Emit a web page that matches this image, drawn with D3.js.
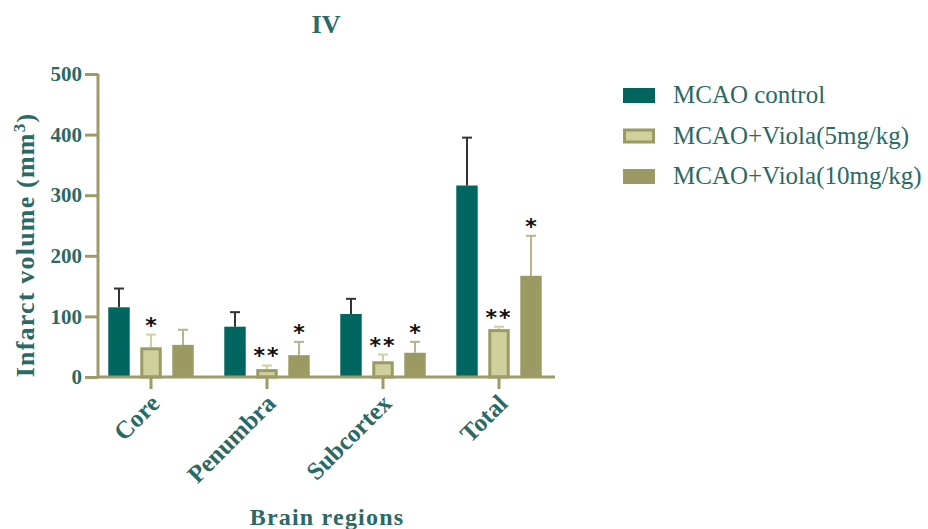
<!DOCTYPE html>
<html>
<head>
<meta charset="utf-8">
<script src="https://cdn.jsdelivr.net/npm/d3@7"></script>
<style>
  body { margin: 0; background: #fff; }
  svg text { font-family: "Liberation Serif", "Times New Roman", serif; }
</style>
</head>
<body>
<div id="chart"></div>
<script>
var width = 928, height = 529;

const regions = ["Core", "Penumbra", "Subcortex", "Total"];
const groups = ["MCAO control", "MCAO+Viola(5mg/kg)", "MCAO+Viola(10mg/kg)"];
const controlMean = [115, 83, 104, 316];
const controlSD = [31, 24, 25, 79];
const viola5Mean = [49, 13, 26, 79];
const viola5SD = [21, 6, 11, 4];
const viola10Mean = [53, 36, 40, 167];
const viola10SD = [25, 22, 18, 66];
const stars5 = ["*", "**", "**", "**"];
const stars10 = ["", "*", "*", "*"];
const yTicks = [0, 100, 200, 300, 400, 500];

var teal = "#00665f", olive = "#9b9a63", pale = "#d0d09d", textCol = "#2a6965", axisCol = "#9d9b68";
var serif = '"Liberation Serif", "Times New Roman", serif';

var series = [
  { name: groups[0], mean: controlMean, sd: controlSD, stars: null },
  { name: groups[1], mean: viola5Mean, sd: viola5SD, stars: stars5 },
  { name: groups[2], mean: viola10Mean, sd: viola10SD, stars: stars10 }
];

var svg = d3.select('#chart').append('svg')
  .attr('width', width).attr('height', height);

var y = d3.scaleLinear().domain([0, 500]).range([377, 74]);
var x = d3.scaleBand().domain(regions).range([93, 557]).padding(0);
var xs = d3.scaleBand().domain(groups).range([-48, 48]).paddingInner(0.33).paddingOuter(0.165);
var bw = xs.bandwidth();

// bars
series.forEach(function(s, si) {
  var g = svg.append('g').attr('class', 'series');
  var data = regions.map(function(r, i) { return { r: r, m: s.mean[i], sd: s.sd[i], star: s.stars ? s.stars[i] : "" }; });
  var cx = d => x(d.r) + x.bandwidth() / 2 + xs(s.name);

  // error bars (upper only)
  var errCol = si === 0 ? "#333" : (si === 1 ? pale : "#b5b48b");
  g.selectAll('line.err').data(data).enter().append('line')
    .attr('x1', d => cx(d) + bw / 2).attr('x2', d => cx(d) + bw / 2)
    .attr('y1', d => y(d.m)).attr('y2', d => y(d.m + d.sd))
    .attr('stroke', errCol).attr('stroke-width', 2);
  g.selectAll('line.cap').data(data).enter().append('line')
    .attr('x1', d => cx(d) + bw / 2 - 5).attr('x2', d => cx(d) + bw / 2 + 5)
    .attr('y1', d => y(d.m + d.sd)).attr('y2', d => y(d.m + d.sd))
    .attr('stroke', errCol).attr('stroke-width', 2);

  if (si === 1) {
    g.selectAll('rect.bar').data(data).enter().append('rect')
      .attr('x', d => cx(d) + 1.5).attr('y', d => y(d.m) + 1.5)
      .attr('width', bw - 3).attr('height', d => y(0) - y(d.m) - 1.5)
      .attr('fill', pale).attr('stroke', olive).attr('stroke-width', 3);
  } else {
    g.selectAll('rect.bar').data(data).enter().append('rect')
      .attr('x', d => cx(d)).attr('y', d => y(d.m))
      .attr('width', bw).attr('height', d => y(0) - y(d.m))
      .attr('fill', si === 0 ? teal : olive);
  }

  if (s.stars) {
    g.selectAll('text.star').data(data.filter(d => d.star)).enter().append('text')
      .attr('x', d => cx(d) + bw / 2).attr('y', d => y(d.m + d.sd) - 2)
      .attr('text-anchor', 'middle')
      .style('font-family', '"DejaVu Sans", sans-serif')
      .attr('font-size', 22).attr('font-weight', 'bold')
      .attr('letter-spacing', d => d.star.length > 1 ? 2 : 0)
      .attr('fill', '#111')
      .text(d => d.star);
  }
});

// axes
var yAxis = svg.append('g').attr('transform', 'translate(98,0)')
  .call(d3.axisLeft(y).tickValues(yTicks).tickSize(13).tickPadding(3));
var xAxis = svg.append('g').attr('transform', 'translate(0,377)')
  .call(d3.axisBottom(x).tickSize(12).tickSizeOuter(0).tickFormat(''));

[yAxis, xAxis].forEach(function(a) {
  a.select('.domain').attr('stroke', axisCol).attr('stroke-width', 3);
  a.selectAll('.tick line').attr('stroke', axisCol).attr('stroke-width', 3);
});
xAxis.select('.domain').attr('d', 'M98,0H555');
yAxis.select('.domain').attr('d', 'M0,74V377');
yAxis.selectAll('.tick text')
  .style('font-family', serif)
  .attr('font-size', 21).attr('font-weight', 'bold').attr('fill', textCol);

// rotated category labels
svg.append('g').selectAll('text.cat').data(regions).enter().append('text')
  .attr('transform', d => 'translate(' + (x(d) + x.bandwidth() / 2 + 10) + ',' + 405 + ') rotate(-45)')
  .attr('text-anchor', 'end')
  .style('font-family', serif)
  .attr('font-size', 25).attr('font-weight', 'bold').attr('fill', textCol)
  .text(d => d);

// axis titles
var ytitle = svg.append('text')
  .attr('transform', 'translate(34,245) rotate(-90)')
  .attr('text-anchor', 'middle')
  .style('font-family', serif)
  .attr('font-size', 26).attr('font-weight', 'bold').attr('fill', textCol)
  .attr('letter-spacing', 1.2);
ytitle.append('tspan').text('Infarct volume (mm');
ytitle.append('tspan').attr('baseline-shift', 'super').attr('font-size', 17).text('3');
ytitle.append('tspan').text(')');

svg.append('text')
  .attr('x', 327).attr('y', 525)
  .attr('text-anchor', 'middle')
  .style('font-family', serif)
  .attr('font-size', 24).attr('font-weight', 'bold').attr('fill', textCol)
  .attr('letter-spacing', 1.2)
  .text('Brain regions');

svg.append('text')
  .attr('x', 326).attr('y', 33)
  .attr('text-anchor', 'middle')
  .style('font-family', serif)
  .attr('font-size', 26).attr('font-weight', 'bold').attr('fill', textCol)
  .text('IV');

// legend
var legend = svg.append('g').selectAll('g.leg').data(groups).enter().append('g')
  .attr('transform', (d, i) => 'translate(623,' + (88 + i * 40.5) + ')');
legend.append('rect')
  .attr('x', d => d === groups[1] ? 1.5 : 0).attr('y', d => d === groups[1] ? 1.5 : 0)
  .attr('width', d => d === groups[1] ? 29 : 32).attr('height', d => d === groups[1] ? 12 : 15)
  .attr('fill', (d, i) => i === 0 ? teal : (i === 1 ? pale : olive))
  .attr('stroke', (d, i) => i === 1 ? olive : 'none').attr('stroke-width', 3);
legend.append('text')
  .attr('x', 50).attr('y', 15)
  .style('font-family', serif)
  .attr('font-size', 25).attr('fill', textCol)
  .text(d => d);
</script>
</body>
</html>
